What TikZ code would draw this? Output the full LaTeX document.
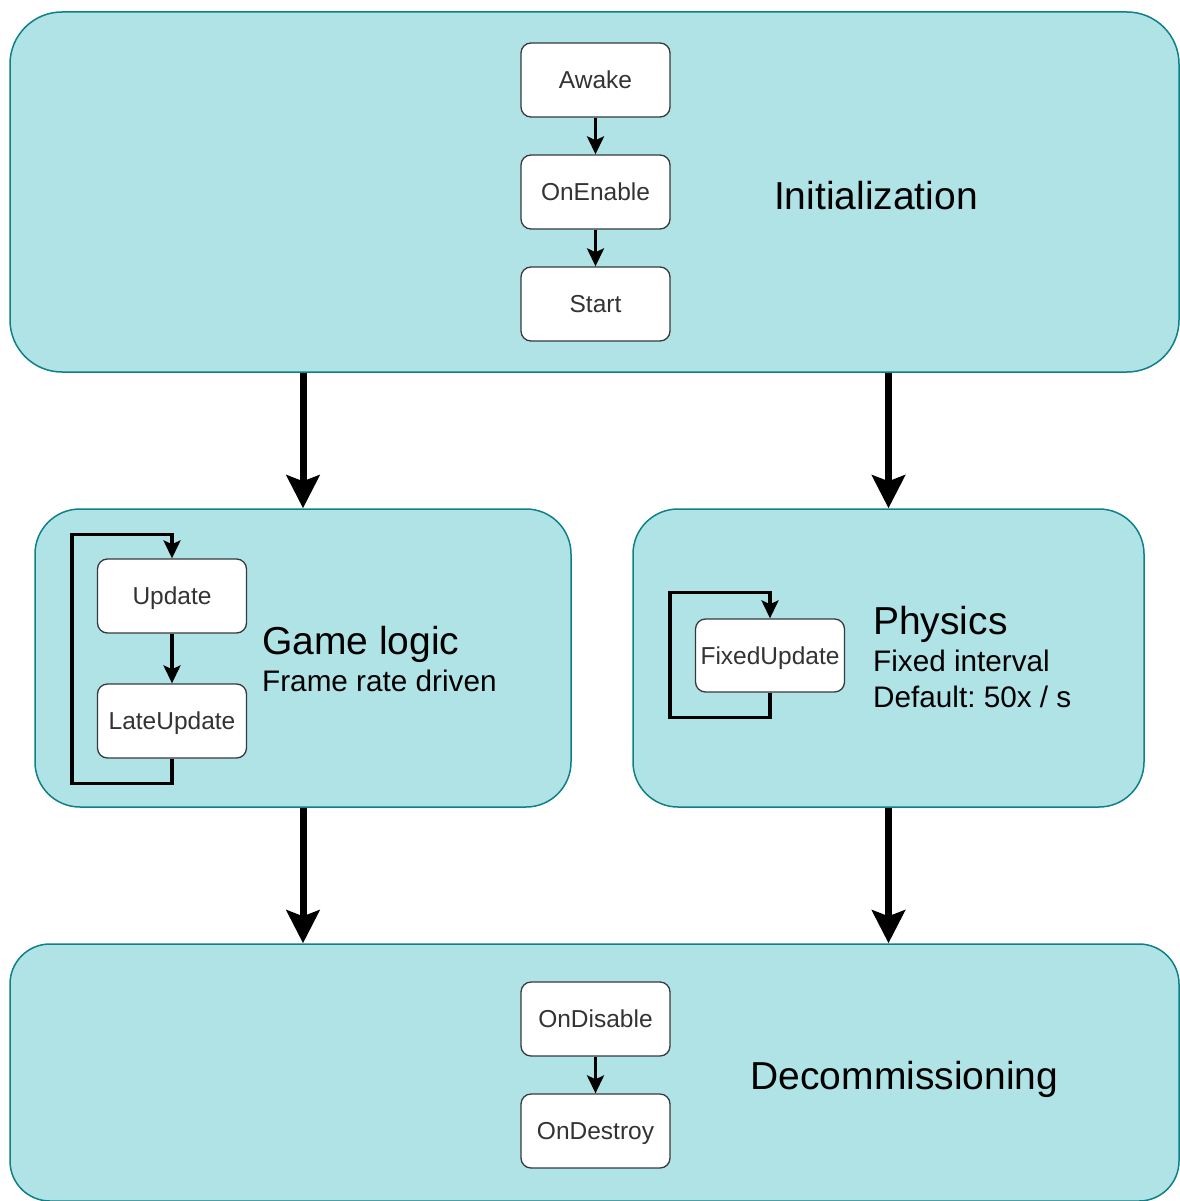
\documentclass[tikz,border=0pt]{standalone}
\usepackage{fontspec}
\setmainfont{Liberation Sans}
\usetikzlibrary{arrows.meta,calc}
\definecolor{phasefill}{HTML}{B0E3E6}
\definecolor{phaseline}{HTML}{0E8088}
\definecolor{stepline}{HTML}{36393D}
\definecolor{steptext}{HTML}{333333}
\frenchspacing
\begin{document}
\begin{tikzpicture}[x=1pt,y=-1pt,
  phase/.style={draw=phaseline,fill=phasefill,line width=1.5pt,rectangle,inner sep=0pt},
  stepbox/.style={draw=stepline,fill=white,line width=1.3pt,rounded corners=10pt,
    minimum width=149pt,minimum height=74pt,inner sep=0pt,text=steptext,
    text height=17.5pt,text depth=0pt,
    font=\fontsize{24.5}{28}\selectfont},
  flow/.style={line width=3.5pt,-{Stealth[length=18pt,width=17pt,inset=4pt]}},
  loopline/.style={line width=3.5pt,line join=miter,-{Stealth[length=18pt,width=17pt,inset=4pt]}},
  bigflow/.style={line width=7pt,-{Stealth[length=33pt,width=33pt,inset=6pt]}},
  title/.style={inner sep=0pt,font=\fontsize{39}{45}\selectfont},
  sub/.style={inner sep=0pt,font=\fontsize{29.7}{35}\selectfont}]
\useasboundingbox (0,0) rectangle (1179,1201);

% phase containers
\node[phase,rounded corners=52pt,minimum width=1169pt,minimum height=360pt] (init) at (594.5,192) {};
\node[phase,rounded corners=45pt,minimum width=536pt,minimum height=298pt] (game) at (303,658) {};
\node[phase,rounded corners=45pt,minimum width=511pt,minimum height=298pt] (phys) at (888.5,658) {};
\node[phase,rounded corners=40pt,minimum width=1169pt,minimum height=257pt] (dec) at (594.5,1072.5) {};

% initialization steps
\node[stepbox] (awake) at (595.5,80) {Awake};
\node[stepbox] (enable) at (595.5,192) {OnEnable};
\node[stepbox] (start) at (595.5,304) {Start};
\draw[flow] (awake) -- (enable);
\draw[flow] (enable) -- (start);
\node[title,anchor=base] (initlbl) at (876,209) {Initialization};

% game logic
\node[stepbox] (update) at (172,596) {Update};
\node[stepbox] (late) at (172,721) {LateUpdate};
\draw[flow] (update) -- (late);
\draw[loopline] (late.south) -- ++(0,25) -- ++(-100,0) |- ([yshift=24pt]update.north) -- (update.north);
\node[title,anchor=base west] (gamelbl) at (262,654) {Game logic};
\node[sub,anchor=base west] (gamesub) at (262,691) {Frame rate driven};

% physics
\node[stepbox,minimum height=73pt] (fixed) at (770,655.5) {FixedUpdate};
\draw[loopline] (fixed.south) -- ++(0,25) -- ++(-100,0) |- ([yshift=26pt]fixed.north) -- (fixed.north);
\node[title,anchor=base west] (physlbl) at (873,634) {Physics};
\node[sub,anchor=base west] (physsub1) at (873,671) {Fixed interval};
\node[sub,anchor=base west] (physsub2) at (873,707) {Default: 50x / s};

% decommissioning steps
\node[stepbox] (disable) at (595.5,1019) {OnDisable};
\node[stepbox] (destroy) at (595.5,1131) {OnDestroy};
\draw[flow] (disable) -- (destroy);
\node[title,anchor=base] (declbl) at (904.5,1089) {Decommissioning};

% transitions between phases
\draw[bigflow] (init.south -| game.north) -- (game.north);
\draw[bigflow] (init.south -| phys.north) -- (phys.north);
\draw[bigflow] (game.south) -- (game.south |- dec.north);
\draw[bigflow] (phys.south) -- (phys.south |- dec.north);
\end{tikzpicture}
\end{document}
